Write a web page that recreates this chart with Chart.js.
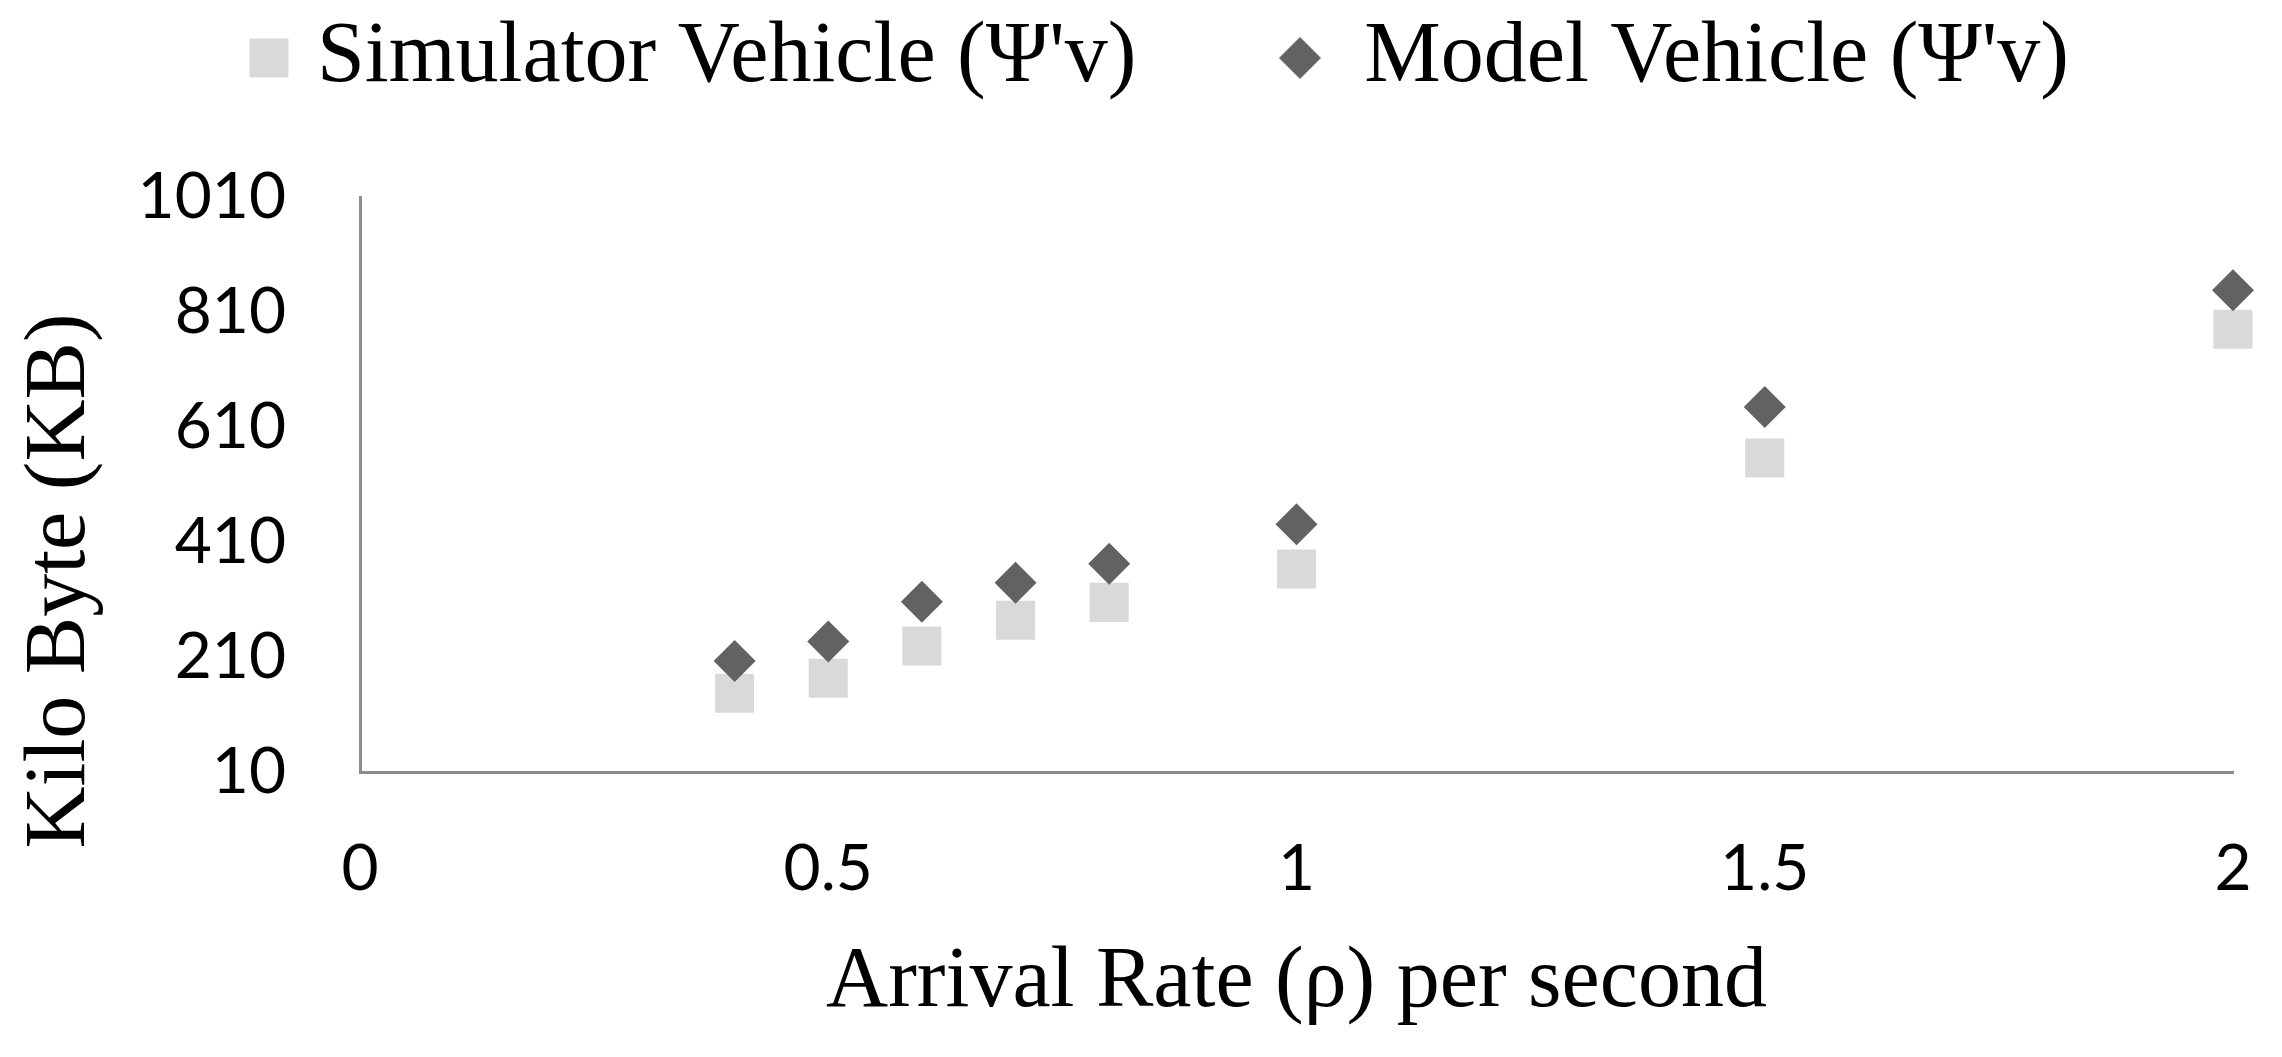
<!DOCTYPE html>
<html>
<head>
<meta charset="utf-8">
<script src="https://cdn.jsdelivr.net/npm/chart.js@4.4.1/dist/chart.umd.min.js"></script>
<style>
html, body { margin: 0; padding: 0; background: #ffffff; }
#wrap { width: 2282px; height: 1057px; position: relative; }
</style>
</head>
<body>
<div id="wrap"><canvas id="c"></canvas></div>
<script>
// ---- data ----
const arrivalRates = [0.4, 0.5, 0.6, 0.7, 0.8, 1.0, 1.5, 2.0];
const simulatorKB = [147, 173, 229, 274, 305, 363, 556, 780];
const modelKB = [203, 237, 306, 339, 372, 441, 645, 848];
const seriesNames = ["Simulator Vehicle (\u03A8'v)", "Model Vehicle (\u03A8'v)"];
const xTicks = [0, 0.5, 1, 1.5, 2];
const yTicks = [10, 210, 410, 610, 810, 1010];
const xTitle = "Arrival Rate (\u03C1) per second";
const yTitle = "Kilo Byte (KB)";

// ---- style ----
const SERIF = "'Liberation Serif', 'Times New Roman', serif";
const SANS = "Lato, 'Noto Sans', sans-serif";
const SER_SIZE = 86;
const TICK_SIZE = 64;
const SIM_COLOR = '#d9d9d9';
const MODEL_COLOR = '#626262';
const AXIS_COLOR = '#8c8c8c';

const W = 2282, H = 1057;
const AREA_LEFT = 360, AREA_RIGHT = 2233, AREA_TOP = 197, AREA_BOTTOM = 772;

// legend layout (measured text to place markers like the reference)
const mctx = document.createElement('canvas').getContext('2d');
mctx.font = SER_SIZE + 'px ' + SERIF;
const t1 = mctx.measureText(seriesNames[0]).width;
const LEG_PAD = 15;
const HALF = SER_SIZE / 2;
const TEXT1_X = 317, TEXT2_X = 1364, MARK1_X = 269, MARK2_X = 1300;
const boxW = Math.round(TEXT2_X - TEXT1_X - t1 - LEG_PAD - HALF);
const padLeft = TEXT1_X - HALF - boxW - LEG_PAD;
const cx1 = padLeft + LEG_PAD + boxW / 2;
const cx2 = padLeft + LEG_PAD + boxW + HALF + t1 + LEG_PAD + boxW / 2;

function makeMarker(kind, color, off) {
  const half = kind === 'rect' ? 19.5 : 21;
  const w = Math.ceil(2 * (Math.abs(off) + half + 2));
  const h = Math.ceil(2 * (half + 2));
  const c = document.createElement('canvas');
  c.width = w; c.height = h;
  const g = c.getContext('2d');
  g.fillStyle = color;
  const x = w / 2 + off, y = h / 2;
  if (kind === 'rect') {
    g.fillRect(x - half, y - half, 2 * half, 2 * half);
  } else {
    g.beginPath();
    g.moveTo(x, y - half); g.lineTo(x + half, y); g.lineTo(x, y + half); g.lineTo(x - half, y);
    g.closePath(); g.fill();
  }
  return c;
}
const markers = [
  makeMarker('rect', SIM_COLOR, MARK1_X - cx1),
  makeMarker('diamond', MODEL_COLOR, MARK2_X - cx2)
];

const legendSpacer = {
  id: 'legendSpacer',
  beforeInit(chart) {
    const orig = chart.legend.fit;
    chart.legend.fit = function () { orig.call(this); this.height = AREA_TOP; };
  }
};

const yTitlePlugin = {
  id: 'yTitlePlugin',
  afterDraw(chart) {
    const ctx = chart.ctx;
    ctx.save();
    ctx.translate(84, 581);
    ctx.rotate(-Math.PI / 2);
    ctx.font = SER_SIZE + 'px ' + SERIF;
    ctx.fillStyle = '#000000';
    ctx.textAlign = 'center';
    ctx.textBaseline = 'alphabetic';
    ctx.fillText(yTitle, 0, 0);
    ctx.restore();
  }
};

new Chart(document.getElementById('c'), {
  type: 'scatter',
  data: {
    datasets: [
      {
        label: seriesNames[0],
        data: arrivalRates.map((x, i) => ({ x: x, y: simulatorKB[i] })),
        pointStyle: 'rect',
        pointRadius: 27.6,
        pointHoverRadius: 27.6,
        backgroundColor: SIM_COLOR,
        pointBackgroundColor: SIM_COLOR,
        borderWidth: 0,
        pointBorderWidth: 0,
        order: 1,
        clip: false
      },
      {
        label: seriesNames[1],
        data: arrivalRates.map((x, i) => ({ x: x, y: modelKB[i] })),
        pointStyle: 'rectRot',
        pointRadius: 21,
        pointHoverRadius: 21,
        backgroundColor: MODEL_COLOR,
        pointBackgroundColor: MODEL_COLOR,
        borderWidth: 0,
        pointBorderWidth: 0,
        order: 0,
        clip: false
      }
    ]
  },
  options: {
    responsive: true,
    maintainAspectRatio: false,
    animation: false,
    events: [],
    layout: { padding: { left: padLeft, right: W - AREA_RIGHT, top: 0, bottom: 0 } },
    plugins: {
      tooltip: { enabled: false },
      legend: {
        position: 'top',
        align: 'start',
        labels: {
          usePointStyle: true,
          pointStyleWidth: boxW,
          padding: LEG_PAD,
          color: '#000000',
          font: { family: SERIF, size: SER_SIZE },
          generateLabels: (chart) => {
            const items = Chart.defaults.plugins.legend.labels.generateLabels(chart);
            items.forEach(it => { it.pointStyle = markers[it.datasetIndex]; });
            items.sort((a, b) => a.datasetIndex - b.datasetIndex);
            return items;
          }
        }
      }
    },
    scales: {
      x: {
        type: 'linear',
        position: 'bottom',
        min: xTicks[0],
        max: xTicks[xTicks.length - 1],
        afterBuildTicks: (s) => { s.ticks = xTicks.map(v => ({ value: v })); },
        afterFit: (s) => { s.height = H - AREA_BOTTOM; s.paddingLeft = 0; s.paddingRight = 0; },
        grid: { display: false, drawTicks: false },
        border: { display: true, color: AXIS_COLOR, width: 3 },
        ticks: {
          padding: 59,
          color: '#000000',
          font: { family: SANS, size: TICK_SIZE },
          maxRotation: 0,
          autoSkip: false,
          callback: (v) => String(v)
        },
        title: {
          display: true,
          text: xTitle,
          color: '#000000',
          font: { family: SERIF, size: SER_SIZE, lineHeight: 1 },
          padding: { top: 0, bottom: 31 }
        }
      },
      y: {
        type: 'linear',
        min: yTicks[0],
        max: yTicks[yTicks.length - 1],
        afterBuildTicks: (s) => { s.ticks = yTicks.map(v => ({ value: v })); },
        afterFit: (s) => { s.width = AREA_LEFT - padLeft; s.paddingTop = 0; s.paddingBottom = 0; },
        grid: { display: false, drawTicks: false },
        border: { display: true, color: AXIS_COLOR, width: 3 },
        ticks: {
          padding: 74,
          color: '#000000',
          font: { family: SANS, size: TICK_SIZE },
          autoSkip: false,
          callback: (v) => String(v)
        }
      }
    }
  },
  plugins: [legendSpacer, yTitlePlugin]
});
</script>
</body>
</html>
